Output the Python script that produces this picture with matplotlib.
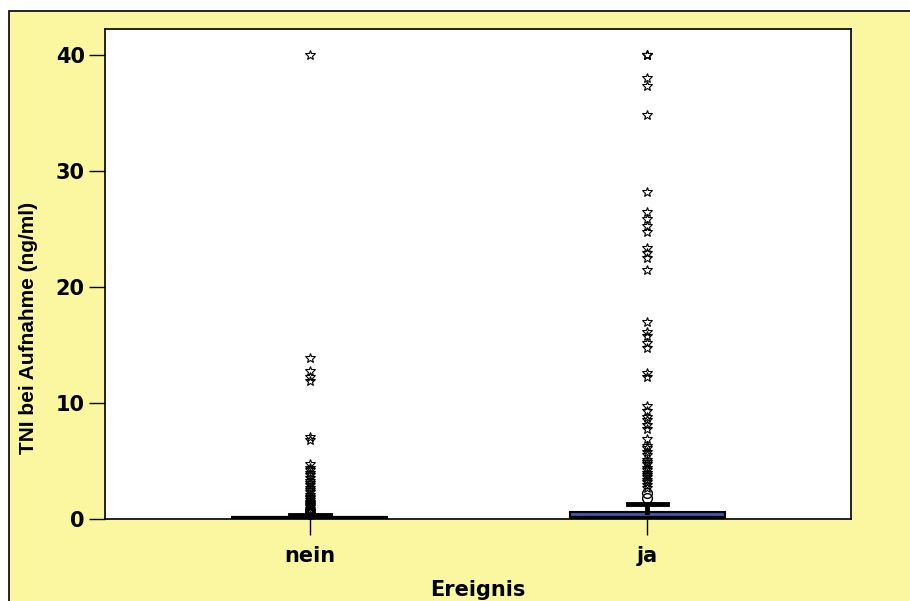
import matplotlib
matplotlib.use("Agg")
import matplotlib.pyplot as plt
from matplotlib.patches import Rectangle

groups = ["nein", "ja"]
q1 = [0.0, 0.02]
medians = [0.05, 0.1]
q3 = [0.15, 0.62]
whisker_lo = [0.0, 0.0]
whisker_hi = [0.35, 1.3]

# SPSS: circles = outliers, stars = extreme values
circles_nein = [0.45, 0.5, 0.55]
stars_nein = [40.0, 13.9, 12.8, 12.2, 11.9, 7.1, 6.8, 4.7, 4.4, 4.2, 4.0, 3.8,
              3.5, 3.3, 3.1, 2.9, 2.7, 2.5, 2.3, 2.1, 1.9, 1.8, 1.6, 1.5, 1.4,
              1.3, 1.2, 1.1, 1.0, 0.9, 0.8, 0.7, 0.65, 0.6]
circles_ja = [1.8, 2.2]
stars_ja = [40.0, 40.0, 40.0, 38.0, 37.3, 34.8, 28.2, 26.5, 25.9, 25.3, 24.7,
            23.4, 22.9, 22.5, 21.5, 17.0, 16.1, 15.8, 15.2, 14.7, 12.6, 12.2,
            9.7, 9.3, 8.8, 8.5, 8.1, 7.8, 6.9, 6.3, 6.1, 5.8, 5.5, 5.1, 4.9,
            4.7, 4.4, 4.2, 4.0, 3.8, 3.6, 3.4, 3.2, 2.9, 2.7]

yellow = "#FAF7A0"
blue = "#3D58A9"

fig = plt.figure(figsize=(9.1, 6.01), dpi=100, facecolor="white")
fig.patches.append(Rectangle((9 / 910, -0.01), 1.0, (601 - 11) / 601 + 0.01,
                             transform=fig.transFigure, facecolor=yellow,
                             edgecolor="black", linewidth=1.2, zorder=-5))

ax = fig.add_axes([105 / 910, 1 - 519 / 601, 746 / 910, 490 / 601])
ax.set_facecolor("white")

stats = []
for i in range(len(groups)):
    stats.append(dict(med=medians[i], q1=q1[i], q3=q3[i],
                      whislo=whisker_lo[i], whishi=whisker_hi[i], fliers=[]))

ax.bxp(stats, positions=[1, 2], widths=0.46, capwidths=0.116,
       showfliers=False, patch_artist=True,
       boxprops=dict(facecolor=blue, edgecolor="black", linewidth=1.5),
       medianprops=dict(color="black", linewidth=3),
       whiskerprops=dict(color="black", linewidth=3.5),
       capprops=dict(color="black", linewidth=3.5))

for pos, circ, star in [(1, circles_nein, stars_nein), (2, circles_ja, stars_ja)]:
    ax.plot([pos] * len(circ), circ, linestyle="none", marker="o", ms=7,
            mfc="none", mec="black", mew=1.0, zorder=4)
    ax.plot([pos] * len(star), star, linestyle="none", marker="*", ms=7.5,
            mfc="none", mec="black", mew=0.8, zorder=4)

ax.set_xlim(0.392, 2.605)
ax.set_ylim(0, 42.24)
ax.set_yticks([0, 10, 20, 30, 40])
ax.set_xticks([1, 2])
ax.set_xticklabels(groups)
ax.tick_params(axis="both", length=11.5, width=1, labelsize=15)
ax.tick_params(axis="y", pad=3)
ax.tick_params(axis="x", pad=8)
for lab in ax.get_xticklabels() + ax.get_yticklabels():
    lab.set_fontweight("bold")

ax.set_ylabel("TNI bei Aufnahme (ng/ml)", fontsize=15, fontweight="bold",
              family=["Liberation Sans Narrow", "Liberation Sans"])
ax.yaxis.set_label_coords(-0.09, 0.39)
ax.set_xlabel("Ereignis", fontsize=15, fontweight="bold", labelpad=10)

for s in ax.spines.values():
    s.set_linewidth(1.2)
    s.set_color("black")

fig.savefig("out.png", dpi=100, facecolor="white")
